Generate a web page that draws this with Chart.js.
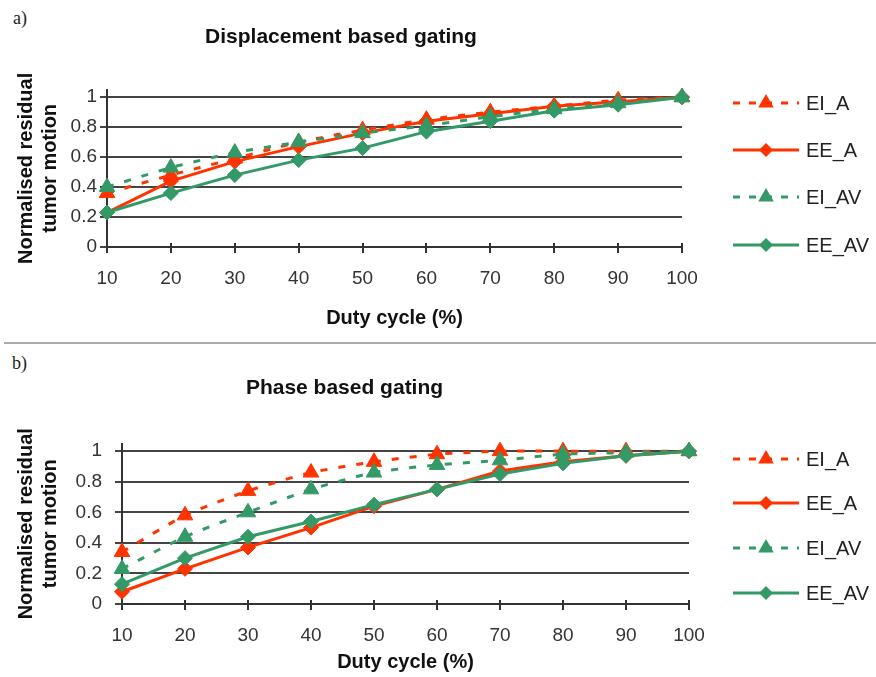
<!DOCTYPE html>
<html>
<head>
<meta charset="utf-8">
<script src="https://cdn.jsdelivr.net/npm/chart.js@4.4.1/dist/chart.umd.min.js"></script>
<style>
  html, body { margin: 0; padding: 0; background: #fff; }
  #page { position: relative; width: 876px; height: 677px; overflow: hidden; }
  canvas { position: absolute; left: 0; }
  .tag { position: absolute; font-family: "Liberation Serif", "DejaVu Serif", serif; font-size: 18px; color: #222; }
  #sep { position: absolute; left: 4px; top: 342px; width: 872px; height: 2px; background: #aaa; }
</style>
</head>
<body>
<div id="page">
  <div class="tag" style="left:13px;top:8px">a)</div>
  <canvas id="chartA" style="top:0;width:876px;height:340px" width="876" height="340"></canvas>
  <div id="sep"></div>
  <div class="tag" style="left:12px;top:353px">b)</div>
  <canvas id="chartB" style="top:343px;width:876px;height:334px" width="876" height="334"></canvas>
</div>
<script>
// x categories and y ticks
const dutyCycle = ['10', '20', '30', '40', '50', '60', '70', '80', '90', '100'];
const yTickValues = [0, 0.2, 0.4, 0.6, 0.8, 1];
const seriesNames = ['EI_A', 'EE_A', 'EI_AV', 'EE_AV'];
const yTitleLines = ['Normalised residual', 'tumor motion'];
const xTitle = 'Duty cycle (%)';

// a) Displacement based gating
const dispEI_A  = [0.36, 0.48, 0.59, 0.70, 0.78, 0.85, 0.90, 0.94, 0.98, 1.00];
const dispEE_A  = [0.23, 0.44, 0.57, 0.67, 0.76, 0.84, 0.89, 0.94, 0.97, 1.00];
const dispEI_AV = [0.40, 0.53, 0.63, 0.70, 0.76, 0.81, 0.87, 0.92, 0.96, 1.00];
const dispEE_AV = [0.23, 0.36, 0.48, 0.58, 0.66, 0.77, 0.84, 0.91, 0.95, 1.00];

// b) Phase based gating
const phaseEI_A  = [0.34, 0.58, 0.74, 0.86, 0.93, 0.98, 1.00, 1.00, 1.00, 1.00];
const phaseEE_A  = [0.08, 0.23, 0.37, 0.50, 0.64, 0.75, 0.87, 0.93, 0.97, 1.00];
const phaseEI_AV = [0.23, 0.44, 0.60, 0.75, 0.86, 0.91, 0.94, 0.98, 0.99, 1.00];
const phaseEE_AV = [0.13, 0.30, 0.44, 0.54, 0.65, 0.75, 0.85, 0.92, 0.97, 1.00];

const RED = '#ff3300';
const GREEN = '#339966';
const FONT = '"Liberation Sans", Arial, sans-serif';

// EI = dashed + triangle, EE = solid + diamond
const seriesStyle = [
  { color: RED,   dashed: true,  marker: 'triangle' },
  { color: RED,   dashed: false, marker: 'rectRot' },
  { color: GREEN, dashed: true,  marker: 'triangle' },
  { color: GREEN, dashed: false, marker: 'rectRot' }
];

function drawMarker(ctx, style, x, y, r) {
  ctx.beginPath();
  if (style === 'triangle') {
    ctx.moveTo(x, y - r);
    ctx.lineTo(x + r * 0.866, y + r / 2);
    ctx.lineTo(x - r * 0.866, y + r / 2);
  } else {
    ctx.moveTo(x, y - r);
    ctx.lineTo(x + r, y);
    ctx.lineTo(x, y + r);
    ctx.lineTo(x - r, y);
  }
  ctx.closePath();
  ctx.fill();
}

// y title (two lines, not squeezed), crossing x ticks, Excel-like legend on the right
const panelDecor = {
  id: 'panelDecor',
  afterDraw(chart, args, opts) {
    const ctx = chart.ctx;
    const ys = chart.scales.y;
    const xs = chart.scales.x;

    ctx.save();
    ctx.translate(opts.yTitleX, (ys.top + ys.bottom) / 2);
    ctx.rotate(-Math.PI / 2);
    ctx.font = 'bold 20px ' + FONT;
    ctx.fillStyle = '#111';
    ctx.textAlign = 'center';
    ctx.textBaseline = 'middle';
    yTitleLines.forEach((line, i) => ctx.fillText(line, 0, i * 24));
    ctx.restore();

    // tick marks poke a little above the x axis, like the original
    ctx.save();
    ctx.strokeStyle = '#333';
    ctx.lineWidth = 2;
    ctx.beginPath();
    xs.ticks.forEach((t, i) => {
      const px = Math.round(xs.getPixelForTick(i));
      ctx.moveTo(px, ys.bottom);
      ctx.lineTo(px, ys.bottom - 4);
    });
    ctx.stroke();
    ctx.restore();

    chart.data.datasets.forEach((ds, i) => {
      const st = seriesStyle[i];
      const y = opts.legendY[i];
      ctx.save();
      ctx.strokeStyle = st.color;
      ctx.fillStyle = st.color;
      ctx.lineWidth = 3;
      ctx.setLineDash(st.dashed ? [7, 9] : []);
      ctx.beginPath();
      ctx.moveTo(733, y);
      ctx.lineTo(799, y);
      ctx.stroke();
      ctx.setLineDash([]);
      drawMarker(ctx, st.marker, 766, y, st.marker === 'triangle' ? 9 : 7);
      ctx.fillStyle = '#222';
      ctx.font = '20px ' + FONT;
      ctx.textAlign = 'left';
      ctx.textBaseline = 'middle';
      ctx.fillText(ds.label, 806, y + 1);
      ctx.restore();
    });
  }
};

function makeChart(id, title, values, L) {
  const datasets = values.map((vals, i) => {
    const st = seriesStyle[i];
    return {
      label: seriesNames[i],
      data: vals,
      borderColor: st.color,
      backgroundColor: st.color,
      borderWidth: 3,
      borderDash: st.dashed ? [7, 11] : [],
      tension: st.dashed ? 0.2 : 0,
      pointStyle: st.marker,
      pointRadius: st.marker === 'triangle' ? 9 : 7.5,
      pointBorderWidth: 1,
      pointBackgroundColor: st.color,
      pointBorderColor: st.color,
      clip: false,
      order: 4 - i
    };
  });

  return new Chart(document.getElementById(id), {
    type: 'line',
    data: { labels: dutyCycle, datasets },
    options: {
      responsive: false,
      animation: false,
      events: [],
      layout: { padding: { left: 0, right: L.padRight, top: 0, bottom: 0 } },
      plugins: {
        legend: { display: false },
        tooltip: { enabled: false },
        title: {
          display: true,
          text: title,
          color: '#111',
          font: { family: FONT, size: 21, weight: 'bold' },
          padding: { top: L.titleTop, bottom: L.titleBottom }
        },
        panelDecor: { yTitleX: 26, legendY: L.legendY }
      },
      scales: {
        x: {
          type: 'category',
          offset: false,
          grid: { drawOnChartArea: false, drawTicks: true, tickLength: 6, color: '#333', lineWidth: 2 },
          border: { color: '#333', width: 2 },
          ticks: { color: '#333', font: { family: FONT, size: 19 }, padding: L.xTickPad, maxRotation: 0, autoSkip: false },
          title: {
            display: true,
            text: xTitle,
            color: '#111',
            font: { family: FONT, size: 20, weight: 'bold' },
            padding: { top: 0, bottom: L.xTitleBottom }
          },
          afterFit(s) { s.height = L.xHeight; }
        },
        y: {
          min: 0,
          max: 1.05,
          afterBuildTicks(s) { s.ticks = yTickValues.map(v => ({ value: v })); },
          grid: { color: '#444', lineWidth: 2, tickLength: 7 },
          border: { color: '#333', width: 2 },
          ticks: {
            color: '#333',
            font: { family: FONT, size: 19 },
            padding: L.yTickPad,
            callback: v => String(Math.round(v * 10) / 10)
          },
          afterFit(s) { s.width = L.yWidth; }
        }
      }
    },
    plugins: [panelDecor]
  });
}

makeChart('chartA', 'Displacement based gating',
  [dispEI_A, dispEE_A, dispEI_AV, dispEE_AV],
  { padRight: 194, titleTop: 25, titleBottom: 39.5, xHeight: 93, xTickPad: 14.5,
    xTitleBottom: 10, yWidth: 107, yTickPad: 3, legendY: [103, 150, 197, 245] });

makeChart('chartB', 'Phase based gating',
  [phaseEI_A, phaseEE_A, phaseEI_AV, phaseEE_AV],
  { padRight: 187, titleTop: 33, titleBottom: 42.3, xHeight: 73, xTickPad: 14,
    xTitleBottom: 3, yWidth: 122, yTickPad: 13, legendY: [116, 160, 205, 250] });
</script>
</body>
</html>
